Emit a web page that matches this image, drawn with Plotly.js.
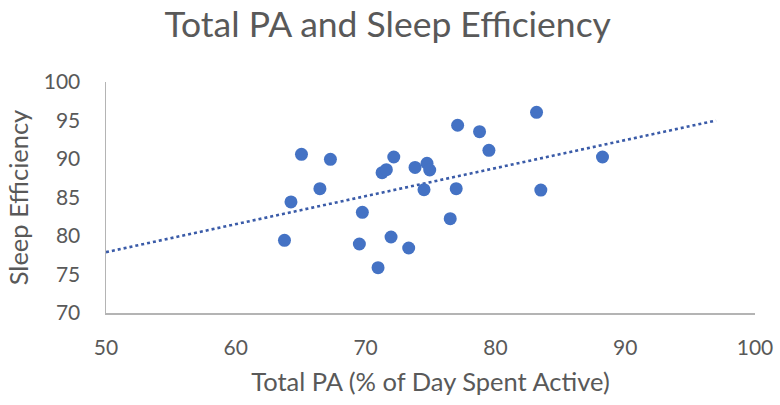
<!DOCTYPE html>
<html>
<head>
<meta charset="utf-8">
<script src="https://cdn.plot.ly/plotly-3.0.1.min.js"></script>
<style>html,body{margin:0;padding:0;background:#fff;}#chart{width:780px;height:405px;}</style>
</head>
<body>
<div id="chart"></div>
<script>
var totalPA = [63.75, 64.25, 65.06, 66.48, 67.29, 69.52, 69.75, 70.96, 71.27, 71.6, 71.96, 72.17, 73.32, 73.81, 74.73, 74.94, 74.5, 76.52, 76.98, 77.09, 78.78, 79.5, 83.17, 83.5, 88.25];
var sleepEff = [79.44, 84.42, 90.61, 86.14, 89.96, 78.96, 83.08, 75.88, 88.22, 88.61, 79.87, 90.26, 78.44, 88.9, 89.45, 88.57, 86.01, 82.25, 86.14, 94.38, 93.55, 91.13, 96.06, 85.97, 90.26];
var trendX = [50, 97];
var trendY = [77.9, 95.0];
var xTicks = [50, 60, 70, 80, 90, 100];
var yTicks = [70, 75, 80, 85, 90, 95, 100];

var font = "Lato, 'Open Sans', sans-serif";
var grey = '#595959';

var traces = [
  {x: trendX, y: trendY, mode: 'lines', type: 'scatter',
   line: {color: '#3A5BA8', width: 2.6, dash: 'dot'}, hoverinfo: 'skip'},
  {x: totalPA, y: sleepEff, mode: 'markers', type: 'scatter',
   marker: {color: '#4472C4', size: 13, line: {width: 0}}}
];

var layout = {
  width: 780, height: 405,
  margin: {l: 105.5, r: 25, t: 82, b: 92},
  paper_bgcolor: '#fff', plot_bgcolor: '#fff',
  showlegend: false,
  font: {family: font, color: grey},
  title: {text: 'Total PA and Sleep Efficiency', font: {family: font, size: 35.5, color: grey},
          x: 0.497, xanchor: 'center', y: 0.94, yanchor: 'middle'},
  xaxis: {range: [50, 100], tickvals: xTicks, ticktext: xTicks.map(String),
          showgrid: false, zeroline: false, showline: true, linecolor: '#B4B4B4', linewidth: 1.5,
          ticks: '', ticklabelstandoff: 15, tickfont: {size: 21, color: grey, family: font},
          title: {text: 'Total PA (% of Day Spent Active)', font: {size: 25.5, color: grey, family: font}, standoff: 15}},
  yaxis: {range: [70, 100], tickvals: yTicks, ticktext: yTicks.map(String),
          showgrid: false, zeroline: false, showline: true, linecolor: '#B4B4B4', linewidth: 1.5,
          ticks: '', ticklabelstandoff: 20, tickfont: {size: 21, color: grey, family: font},
          title: {text: 'Sleep Efficiency', font: {size: 25.5, color: grey, family: font}, standoff: 8}}
};

Plotly.newPlot('chart', traces, layout, {displayModeBar: false, staticPlot: true});
</script>
</body>
</html>
